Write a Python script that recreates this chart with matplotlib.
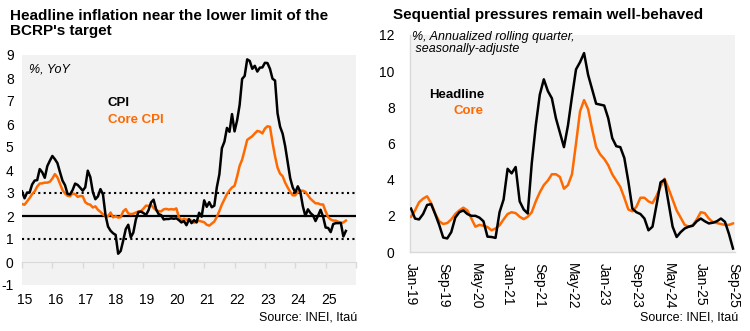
import matplotlib
matplotlib.use("Agg")
import matplotlib.pyplot as plt
import numpy as np

plt.rcParams['font.family'] = ['Liberation Sans', 'DejaVu Sans']
plt.rcParams['axes.unicode_minus'] = False

# ---------------- data: left chart (monthly, Jan-2015 .. Sep-2025) ----------------
start_year = 2015
cpi_yoy = [
    3.07, 2.77, 3.02, 3.02, 3.37, 3.54, 3.56, 4.04, 3.90, 3.66, 4.17, 4.40,
    4.61, 4.47, 4.30, 3.91, 3.54, 3.34, 2.96, 2.94, 3.13, 3.41, 3.35, 3.23,
    3.10, 3.25, 3.97, 3.69, 3.04, 2.73, 2.85, 3.17, 2.94, 2.04, 1.54, 1.36,
    1.25, 1.18, 0.36, 0.48, 0.93, 1.43, 1.62, 1.07, 1.28, 1.85, 2.17, 2.19,
    2.13, 2.04, 2.25, 2.59, 2.71, 2.29, 2.08, 2.04, 1.85, 1.87, 1.87, 1.90,
    1.88, 1.90, 1.82, 1.72, 1.78, 1.60, 1.86, 1.69, 1.82, 1.72, 2.14, 1.97,
    2.68, 2.40, 2.60, 2.38, 2.45, 3.25, 3.81, 4.95, 5.23, 5.83, 5.66, 6.43,
    5.68, 6.15, 6.82, 7.96, 8.09, 8.81, 8.74, 8.40, 8.53, 8.28, 8.45, 8.46,
    8.66, 8.65, 8.40, 7.97, 7.89, 6.46, 5.88, 5.58, 5.04, 4.34, 3.64, 3.24,
    3.02, 3.29, 3.05, 2.42, 2.00, 2.29, 2.13, 2.03, 1.78, 2.01, 2.27, 1.97,
    1.50, 1.48, 1.30, 1.65, 1.69, 1.69, 1.70, 1.11, 1.35,
]
core_yoy = [
    2.52, 2.49, 2.63, 2.78, 2.95, 3.07, 3.28, 3.41, 3.42, 3.45, 3.45, 3.49,
    3.63, 3.82, 3.68, 3.40, 3.13, 2.98, 2.88, 2.86, 2.98, 2.95, 2.83, 2.87,
    2.86, 2.60, 2.52, 2.49, 2.37, 2.42, 2.27, 2.18, 2.07, 1.99, 1.99, 2.15,
    1.94, 1.99, 1.93, 1.95, 2.20, 2.30, 2.11, 2.08, 2.10, 2.15, 2.20, 2.21,
    2.32, 2.45, 2.44, 2.48, 2.35, 2.25, 2.21, 2.20, 2.29, 2.31, 2.28, 2.30,
    2.28, 2.33, 1.95, 1.82, 1.88, 1.84, 1.86, 1.79, 1.71, 1.76, 1.79, 1.76,
    1.73, 1.62, 1.58, 1.67, 1.76, 1.96, 2.22, 2.50, 2.73, 2.95, 3.11, 3.24,
    3.31, 3.71, 4.18, 4.45, 4.87, 5.31, 5.39, 5.47, 5.59, 5.70, 5.67, 5.59,
    5.80, 5.90, 5.88, 5.20, 4.60, 4.10, 3.84, 3.73, 3.45, 3.24, 3.05, 2.90,
    2.90, 3.05, 3.10, 3.10, 3.05, 2.90, 2.75, 2.65, 2.55, 2.55, 2.50, 2.50,
    2.20, 1.95, 1.85, 1.80, 1.80, 1.75, 1.70, 1.72, 1.80,
]
target_mid = 2
target_band = [1, 3]
year_labels = ['15', '16', '17', '18', '19', '20', '21', '22', '23', '24', '25']

# ---------------- data: right chart (monthly, Jan-19 .. Sep-25) ----------------
headline_saar = [
    2.40, 1.85, 1.80, 2.10, 2.60, 2.65, 2.10, 1.50, 0.80, 0.75, 1.10, 1.90,
    2.20, 2.30, 2.10, 2.00, 2.00, 1.90, 1.70, 0.85, 0.83, 0.78, 2.20, 2.90,
    4.60, 4.35, 4.70, 2.80, 2.35, 2.13, 4.90, 7.00, 8.70, 9.55, 8.90, 8.50,
    7.40, 6.60, 5.80, 7.00, 8.60, 10.10, 10.50, 11.00, 9.80, 9.00, 8.20, 8.15,
    8.10, 7.40, 6.30, 5.85, 5.80, 5.20, 3.90, 2.40, 2.20, 2.10, 1.85, 1.20,
    1.40, 2.60, 3.85, 4.00, 2.70, 1.40, 0.83, 1.10, 1.30, 1.40, 1.45, 1.70,
    1.85, 1.70, 1.58, 1.62, 1.70, 1.85, 1.67, 1.00, 0.19,
]
core_saar = [
    1.95, 2.30, 2.75, 2.95, 3.08, 2.70, 2.13, 1.70, 1.55, 1.60, 1.80, 2.10,
    2.30, 2.45, 2.30, 1.85, 1.40, 1.50, 1.45, 1.38, 1.20, 1.30, 1.48, 1.80,
    2.10, 2.20, 2.15, 1.95, 1.82, 1.95, 2.20, 2.80, 3.30, 3.70, 3.95, 4.30,
    4.30, 4.15, 3.50, 3.70, 4.30, 6.00, 7.78, 8.40, 7.90, 6.80, 5.80, 5.40,
    5.15, 4.80, 4.30, 3.95, 3.60, 3.00, 2.35, 2.25, 2.50, 3.00, 3.00, 2.80,
    2.70, 3.10, 3.60, 4.05, 3.50, 2.90, 2.30, 1.90, 1.50, 1.40, 1.48, 1.80,
    2.20, 2.15, 1.85, 1.65, 1.60, 1.55, 1.50, 1.50, 1.58,
]
month_tick_labels = ['Jan-19', 'Sep-19', 'May-20', 'Jan-21', 'Sep-21', 'May-22',
                     'Jan-23', 'Sep-23', 'May-24', 'Jan-25', 'Sep-25']
month_tick_step = 8

# ---------------- styling ----------------
ORANGE = '#FF6A00'
BG = '#F2F2F2'
AXC = '#D9D9D9'
W, H = 750, 331

fig = plt.figure(figsize=(7.5, 3.31), dpi=100)

def box(x0, y0, x1, y1):
    return [x0 / W, 1 - y1 / H, (x1 - x0) / W, (y1 - y0) / H]

# ======== LEFT ========
ax1 = fig.add_axes(box(22, 55, 356, 285))
ax1.set_facecolor(BG)
xl = start_year + np.arange(len(cpi_yoy)) / 12.0
ax1.axhline(target_mid, color='black', lw=1.6, zorder=2)
for b in target_band:
    ax1.axhline(b, color='black', lw=1.5, linestyle=(0, (1, 1.6)), zorder=2)
ax1.plot(xl, core_yoy, color=ORANGE, lw=1.8, zorder=3)
ax1.plot(xl, cpi_yoy, color='black', lw=1.8, zorder=4)
ax1.set_ylim(-1, 9)
ax1.set_xlim(start_year, start_year + 11)
ax1.set_yticks(range(-1, 10))
for s in ax1.spines.values():
    s.set_visible(False)
ax1.tick_params(axis='y', length=0, pad=6, labelsize=10)
years = start_year + np.arange(len(year_labels))
ax1.set_xticks(years + 0.1)
ax1.set_xticklabels(year_labels)
ax1.tick_params(axis='x', length=0, pad=6, labelsize=10)
sec = ax1.secondary_xaxis(0.1)
sec.set_xticks(start_year + np.arange(12))
sec.set_xticklabels([])
sec.tick_params(axis='x', direction='out', length=4, color=AXC, width=1)
sec.spines['bottom'].set_color(AXC)
for k in ['top', 'left', 'right']:
    if k in sec.spines:
        sec.spines[k].set_visible(False)

fig.text(29 / W, 1 - 69 / H, '%, YoY', fontsize=9, style='italic', va='center')
fig.text(108 / W, 1 - 103 / H, 'CPI', fontsize=9.5, weight='bold', va='center', color='black')
fig.text(108 / W, 1 - 120 / H, 'Core CPI', fontsize=9.5, weight='bold', va='center', color=ORANGE)
fig.text(357 / W, 1 - 318 / H, 'Source: INEI, Itaú', fontsize=9, ha='right', va='center')
fig.text(10 / W, 1 - 9 / H, "Headline inflation near the lower limit of the\nBCRP's target",
         fontsize=11, weight='bold', va='top', ha='left', linespacing=1.12)

# ======== RIGHT ========
ax2 = fig.add_axes(box(410, 35, 735, 252))
ax2.set_facecolor(BG)
xr = np.arange(len(headline_saar))
ax2.plot(xr, core_saar, color=ORANGE, lw=1.8, zorder=3)
ax2.plot(xr, headline_saar, color='black', lw=1.8, zorder=4)
ax2.set_ylim(0, 12)
ax2.set_xlim(-0.25, len(headline_saar) - 0.5)
ax2.set_yticks(range(0, 13, 2))
ax2.set_xticks(np.arange(0, len(headline_saar), month_tick_step))
ax2.set_xticklabels(month_tick_labels, rotation=-90, va='top', ha='center')
ax2.tick_params(axis='x', length=0, pad=8, labelsize=10)
ax2.tick_params(axis='y', length=0, pad=11, labelsize=10)
for k in ['top', 'right']:
    ax2.spines[k].set_visible(False)
for k in ['left', 'bottom']:
    ax2.spines[k].set_color(AXC)
    ax2.spines[k].set_linewidth(1)

fig.text(412 / W, 1 - 43 / H, '%, Annualized rolling quarter,\n seasonally-adjuste', fontsize=9,
         style='italic', va='center', ha='left', linespacing=1.0)
fig.text(484 / W, 1 - 95 / H, 'Headline', fontsize=9.5, weight='bold', va='center', ha='right')
fig.text(484 / W, 1 - 111 / H, 'Core', fontsize=9.5, weight='bold', va='center', ha='right', color=ORANGE)
fig.text(738 / W, 1 - 318 / H, 'Source: INEI, Itaú', fontsize=9, ha='right', va='center')
fig.text(393 / W, 1 - 8 / H, 'Sequential pressures remain well-behaved',
         fontsize=11, weight='bold', va='top', ha='left')

fig.savefig('out.png', dpi=100)
